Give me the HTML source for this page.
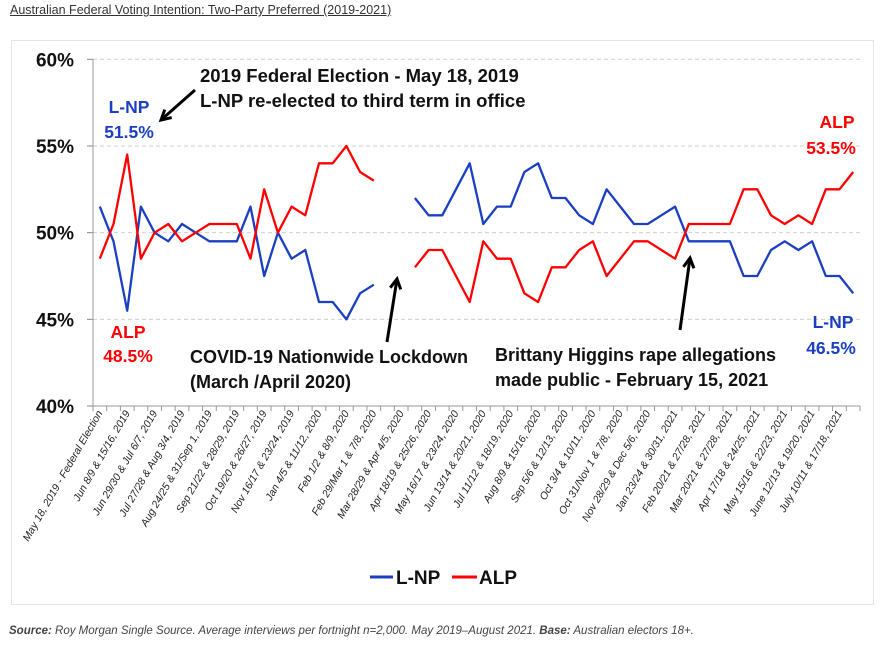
<!DOCTYPE html>
<html><head><meta charset="utf-8"><style>
body{margin:0;background:#fff;width:881px;height:650px;overflow:hidden;font-family:"Liberation Sans",sans-serif;}
#title{position:absolute;left:10px;top:3px;font-size:12.5px;color:#333;text-decoration:underline;}
#box{position:absolute;left:11px;top:40px;width:861px;height:563px;border:1px solid #e4e4e4;}
#src{position:absolute;left:9px;top:625px;font-size:11.5px;font-style:italic;color:#444;}
</style></head><body>
<div id="title">Australian Federal Voting Intention: Two-Party Preferred (2019-2021)</div>
<div id="box"></div>
<svg id="chart" width="881" height="650" style="position:absolute;left:0;top:0"></svg>
<div id="src"><b>Source:</b> Roy Morgan Single Source. Average interviews per fortnight n=2,000. May 2019–August 2021. <b>Base:</b> Australian electors 18+.</div>
<script>
const categories=["May 18, 2019 - Federal Election","Jun 8/9 & 15/16, 2019","Jun 29/30 & Jul 6/7, 2019","Jul 27/28 & Aug 3/4, 2019","Aug 24/25 & 31/Sep 1, 2019","Sep 21/22 & 28/29, 2019","Oct 19/20 & 26/27, 2019","Nov 16/17 & 23/24, 2019","Jan 4/5 & 11/12, 2020","Feb 1/2 & 8/9, 2020","Feb 29/Mar 1 & 7/8, 2020","Mar 28/29 & Apr 4/5, 2020","Apr 18/19 & 25/26, 2020","May 16/17 & 23/24, 2020","Jun 13/14 & 20/21, 2020","Jul 11/12 & 18/19, 2020","Aug 8/9 & 15/16, 2020","Sep 5/6 & 12/13, 2020","Oct 3/4 & 10/11, 2020","Oct 31/Nov 1 & 7/8, 2020","Nov 28/29 & Dec 5/6, 2020","Jan 23/24 & 30/31, 2021","Feb 20/21 & 27/28, 2021","Mar 20/21 & 27/28, 2021","Apr 17/18 & 24/25, 2021","May 15/16 & 22/23, 2021","June 12/13 & 19/20, 2021","July 10/11 & 17/18, 2021"];
const lnp=[51.5,49.5,45.5,51.5,50,49.5,50.5,50,49.5,49.5,49.5,51.5,47.5,50,48.5,49,46,46,45,46.5,47,null,null,
52,51,51,52.5,54,50.5,51.5,51.5,53.5,54,52,52,51,50.5,52.5,51.5,50.5,50.5,51,51.5,49.5,49.5,49.5,49.5,47.5,47.5,49,49.5,49,49.5,47.5,47.5,46.5];
const alp=[48.5,50.5,54.5,48.5,50,50.5,49.5,50,50.5,50.5,50.5,48.5,52.5,50,51.5,51,54,54,55,53.5,53,null,null,
48,49,49,47.5,46,49.5,48.5,48.5,46.5,46,48,48,49,49.5,47.5,48.5,49.5,49.5,49,48.5,50.5,50.5,50.5,50.5,52.5,52.5,51,50.5,51,50.5,52.5,52.5,53.5];
const yTicks=[40,45,50,55,60];
const N=56;
const x0=93,x1=860,yTop=59.3,yBot=406;
const xs=i=>x0+(i+0.5)*(x1-x0)/N;
const ys=v=>yBot-(v-40)/20*(yBot-yTop);
const svg=document.getElementById('chart');const NS='http://www.w3.org/2000/svg';
function mk(t,a,p){const e=document.createElementNS(NS,t);for(const k in a)e.setAttribute(k,a[k]);(p||svg).appendChild(e);return e;}
yTicks.forEach(v=>{
 if(v>40){const g=mk('line',{x1:x0,x2:x1,y1:ys(v),y2:ys(v),stroke:'#cfcfcf','stroke-dasharray':'4,3'});
 
 }
 const t=mk('text',{x:74,y:ys(v)+7,'text-anchor':'end','font-size':19,'font-weight':'bold',fill:'#111'});t.textContent=v+'%';
 
 
 mk('line',{x1:x0-6,x2:x0,y1:ys(v),y2:ys(v),stroke:'#888'});
});
mk('line',{x1:x0,x2:x0,y1:yTop,y2:yBot,stroke:'#999'});
mk('line',{x1:x0,x2:x1,y1:yBot,y2:yBot,stroke:'#999'});
for(let i=0;i<=N;i++){const x=x0+i*(x1-x0)/N;mk('line',{x1:x,x2:x,y1:yBot,y2:yBot+5,stroke:'#999'});}
categories.forEach((c,k)=>{const x=xs(k*2)+3,y=yBot+7;
 const t=mk('text',{x:x,y:y,'text-anchor':'end','font-size':10.5,'font-style':'italic',fill:'#222',transform:`rotate(-60 ${x} ${y})`});t.textContent=c;
 
 });
function series(arr,col,name){let d='';let pen=false;arr.forEach((v,i)=>{if(v==null){pen=false;return;}d+=(pen?'L':'M')+xs(i).toFixed(1)+' '+ys(v).toFixed(1);pen=true;});
 const p=mk('path',{d:d,fill:'none',stroke:col,'stroke-width':2.3,'stroke-linejoin':'round'});
 
 }
series(lnp,'#1a3fc0','lnp-line');series(alp,'#ff0000','alp-line');
function txt(s,x,y,col,name,anchor,fs){const t=mk('text',{x:x,y:y,'font-size':fs||17.5,'font-weight':'bold',fill:col,'text-anchor':anchor||'start'});t.textContent=s;
 
 }
txt('2019 Federal Election - May 18, 2019',200,82,'#111','election-annotation','start',18.5);
txt('L-NP re-elected to third term in office',200,107,'#111','election-annotation-2','start',18.5);
txt('L-NP',129,113,'#1a3fc0','lnp-start-label','middle');txt('51.5%',129,138,'#1a3fc0','lnp-start-value','middle');
txt('ALP',128,338,'#ff0000','alp-start-label','middle');txt('48.5%',128,362,'#ff0000','alp-start-value','middle');
txt('COVID-19 Nationwide Lockdown',190,363,'#111','covid-annotation','start',18);
txt('(March /April 2020)',190,388,'#111','covid-annotation-2','start',18);
txt('Brittany Higgins rape allegations',495,361,'#111','higgins-annotation','start',18);
txt('made public - February 15, 2021',495,386,'#111','higgins-annotation-2','start',18);
txt('ALP',837,128,'#ff0000','alp-end-label','middle');txt('53.5%',831,154,'#ff0000','alp-end-value','middle');
txt('L-NP',833,328,'#1a3fc0','lnp-end-label','middle');txt('46.5%',831,354,'#1a3fc0','lnp-end-value','middle');
function arrow(xa,ya,xb,yb,name){const g=mk('g',{});
 
 mk('line',{x1:xa,y1:ya,x2:xb,y2:yb,stroke:'#000','stroke-width':3},g);
 const a=Math.atan2(yb-ya,xb-xa),h=11;
 const p=(s)=>[xb-h*Math.cos(a+s),yb-h*Math.sin(a+s)];
 const q1=p(0.5),q2=p(-0.5);
 mk('polyline',{points:`${q1} ${xb},${yb} ${q2}`,fill:'none',stroke:'#000','stroke-width':3},g);}
arrow(195,90,161,120,'election-arrow');arrow(387,342,397,279,'covid-arrow');arrow(680,330,690,258,'higgins-arrow');
const lg=mk('g',{});

mk('line',{x1:370,x2:393,y1:577,y2:577,stroke:'#1a3fc0','stroke-width':3},lg);
const l1=mk('text',{x:396,y:584,'font-size':19,'font-weight':'bold',fill:'#111'},lg);l1.textContent='L-NP';
mk('line',{x1:452,x2:477,y1:577,y2:577,stroke:'#ff0000','stroke-width':3},lg);
const l2=mk('text',{x:479,y:584,'font-size':19,'font-weight':'bold',fill:'#111'},lg);l2.textContent='ALP';
</script>
</body></html>
